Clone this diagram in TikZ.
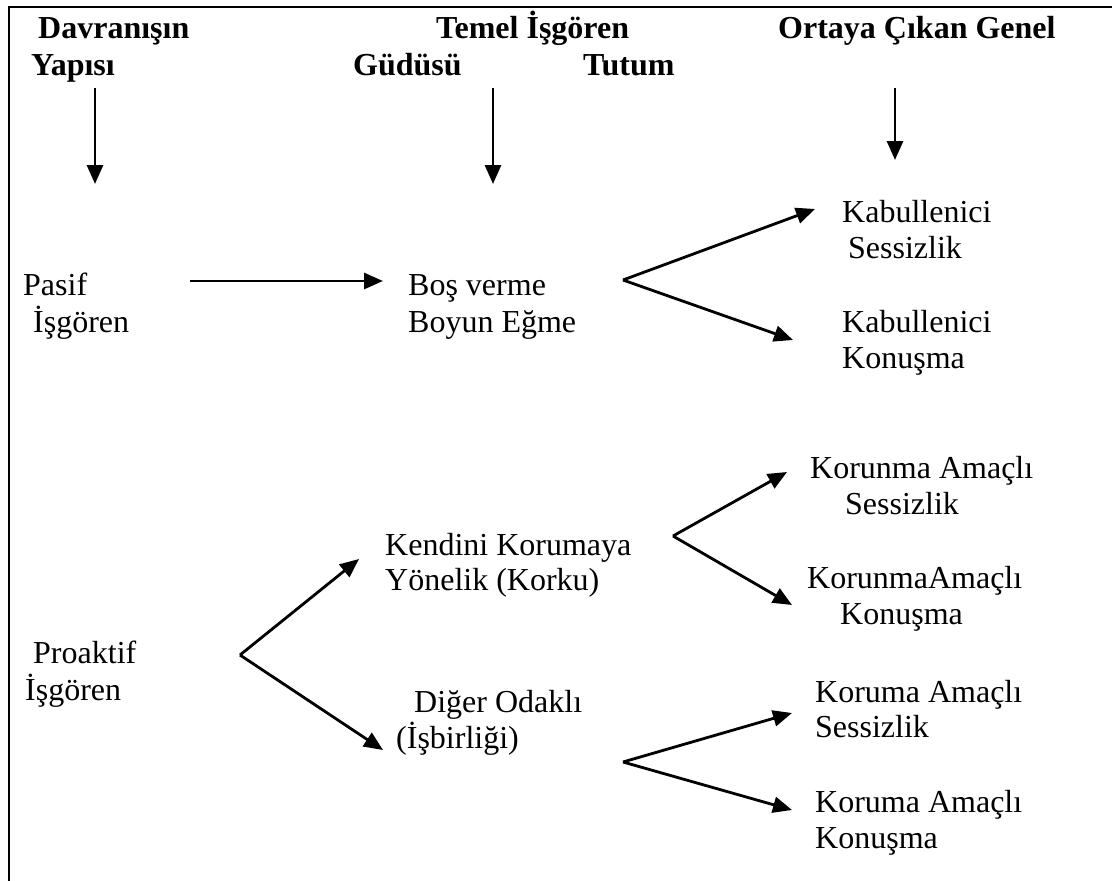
\documentclass[tikz,border=0pt]{standalone}
\usepackage{fontspec}
\setmainfont{Liberation Serif}
\usetikzlibrary{arrows.meta}
\begin{document}
\begin{tikzpicture}[x=1pt,y=-1pt,
  txt/.style={anchor=base west,inner sep=0pt,font=\fontsize{32}{36}\selectfont},
  hdr/.style={txt,font=\fontsize{32}{36}\selectfont\bfseries},
  arr/.style={line width=2.8pt,-{Triangle[length=19pt,width=16pt]}}]
\useasboundingbox (0,0) rectangle (1112,881);
% frame
\draw[line width=2.6pt] (9,881) -- (9,7) -- (1112,7);
% headers
\node[hdr] (h1a) at (38,38) {Davranışın};
\node[hdr] (h1b) at (31,75) {Yapısı};
\node[hdr] (h2a) at (436,38) {Temel İşgören};
\node[hdr] (h2b) at (353,75) {Güdüsü};
\node[hdr] (h2c) at (583,75) {Tutum};
\node[hdr] (h3a) at (778,38) {Ortaya Çıkan Genel};
% vertical arrows
\coordinate (v1s) at (95,88); \coordinate (v1e) at (95,184);
\coordinate (v2s) at (493,88); \coordinate (v2e) at (493,184);
\coordinate (v3s) at (895,88); \coordinate (v3e) at (895,160);
\draw[arr] (v1s) -- (v1e);
\draw[arr] (v2s) -- (v2e);
\draw[arr] (v3s) -- (v3e);
% left column
\node[txt] (pas1) at (23,295) {Pasif};
\node[txt] (pas2) at (33,332) {İşgören};
\node[txt] (pro1) at (33,663) {Proaktif};
\node[txt] (pro2) at (25,700) {İşgören};
% middle column
\node[txt] (bos1) at (408,295) {Boş verme};
\node[txt] (bos2) at (408,332) {Boyun Eğme};
\node[txt] (ken1) at (385,555) {Kendini Korumaya};
\node[txt] (ken2) at (385,590) {Yönelik (Korku)};
\node[txt] (dig1) at (414,712) {Diğer Odaklı};
\node[txt] (dig2) at (396,748) {(İşbirliği)};
% right column
\node[txt] (r1a) at (842,222) {Kabullenici};
\node[txt] (r1b) at (848,258) {Sessizlik};
\node[txt] (r2a) at (842,332) {Kabullenici};
\node[txt] (r2b) at (842,368) {Konuşma};
\node[txt] (r3a) at (810,478) {Korunma Amaçlı};
\node[txt] (r3b) at (845,514) {Sessizlik};
\node[txt] (r4a) at (807,588) {KorunmaAmaçlı};
\node[txt] (r4b) at (840,624) {Konuşma};
\node[txt] (r5a) at (815,702) {Koruma Amaçlı};
\node[txt] (r5b) at (815,737) {Sessizlik};
\node[txt] (r6a) at (815,812) {Koruma Amaçlı};
\node[txt] (r6b) at (815,848) {Konuşma};
% horizontal arrow
\coordinate (hs) at (190,281); \coordinate (he) at (383,281);
\draw[arr] (hs) -- (he);
% fork 1
\coordinate (f1) at (623,280);
\coordinate (f1u) at (815,209); \coordinate (f1l) at (793,340);
\draw[arr] (f1) -- (f1u);
\draw[arr] (f1) -- (f1l);
% fork proaktif
\coordinate (fp) at (240,655);
\coordinate (fpu) at (359,559); \coordinate (fpl) at (383,750);
\draw[arr] (fp) -- (fpu);
\draw[arr] (fp) -- (fpl);
% fork 2
\coordinate (f2) at (673,536);
\coordinate (f2u) at (787,472); \coordinate (f2l) at (792,605);
\draw[arr] (f2) -- (f2u);
\draw[arr] (f2) -- (f2l);
% fork 3
\coordinate (f3) at (623,762);
\coordinate (f3u) at (792,713); \coordinate (f3l) at (792,810);
\draw[arr] (f3) -- (f3u);
\draw[arr] (f3) -- (f3l);
\end{tikzpicture}
\end{document}
